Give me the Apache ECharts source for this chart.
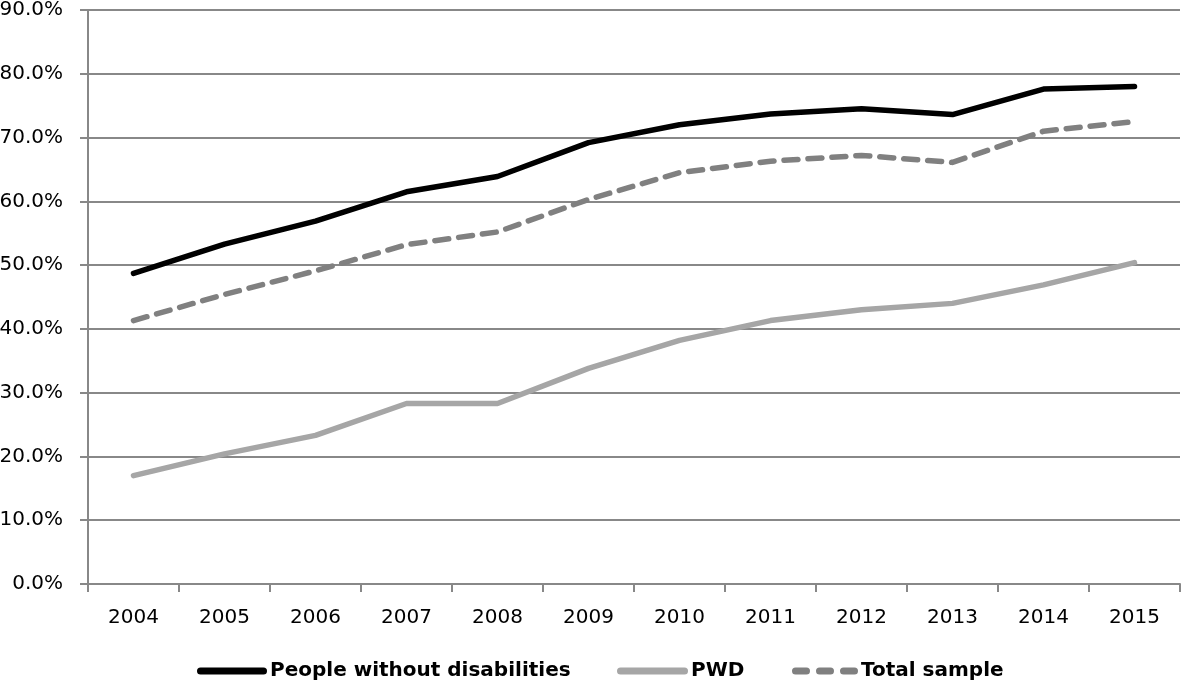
<!DOCTYPE html>
<html>
<head>
<meta charset="utf-8">
<script src="https://cdn.jsdelivr.net/npm/echarts@6/dist/echarts.min.js"></script>
<style>html,body{margin:0;padding:0;background:#fff}#c{width:1181px;height:686px}</style>
</head>
<body>
<div id="c"></div>
<script>
var years = ['2004','2005','2006','2007','2008','2009','2010','2011','2012','2013','2014','2015'];
var withoutDisabilities = [48.7, 53.3, 56.9, 61.5, 63.9, 69.2, 72.0, 73.7, 74.5, 73.6, 77.6, 78.0];
var pwd = [17.0, 20.4, 23.3, 28.3, 28.3, 33.8, 38.2, 41.3, 43.0, 44.0, 46.9, 50.4];
var totalSample = [41.3, 45.4, 49.1, 53.2, 55.2, 60.3, 64.5, 66.3, 67.2, 66.1, 71.0, 72.5];
var seriesNames = ['People without disabilities', 'PWD', 'Total sample'];

var FONT = 'DejaVu Sans';
var legendText = {fontFamily: FONT, fontSize: 20, fontWeight: 'bold', color: '#000', padding: [0,0,0,-2]};
function lg(name, left, w, icon) {
  return {left: left, top: 656, itemWidth: w, itemHeight: 7, icon: icon,
          itemStyle: {borderWidth: 0}, lineStyle: {width: 0},
          textStyle: legendText, data: [name], selectedMode: false};
}
var chart = echarts.init(document.getElementById('c'), null, {renderer: 'canvas'});
chart.setOption({
  animation: false,
  backgroundColor: '#ffffff',
  grid: {left: 88, right: 1, top: 10, bottom: 102, containLabel: false, outerBoundsMode: 'none'},
  legend: [
    lg(seriesNames[0], 192, 70, 'path://M3.5,0h63a3.5,3.5 0 0 1 0,7h-63a3.5,3.5 0 0 1 0,-7z'),
    lg(seriesNames[1], 612, 71, 'path://M3.5,0h64a3.5,3.5 0 0 1 0,7h-64a3.5,3.5 0 0 1 0,-7z'),
    lg(seriesNames[2], 787, 66, 'path://M3.5,0h11a3.5,3.5 0 0 1 0,7h-11a3.5,3.5 0 0 1 0,-7z M27.5,0h11a3.5,3.5 0 0 1 0,7h-11a3.5,3.5 0 0 1 0,-7z M51.5,0h11a3.5,3.5 0 0 1 0,7h-11a3.5,3.5 0 0 1 0,-7z')
  ],
  xAxis: {
    type: 'category', data: years, boundaryGap: true,
    axisLine: {lineStyle: {color: '#888888', width: 2}},
    axisTick: {show: true, interval: 0, length: 8, lineStyle: {color: '#888888', width: 2}},
    axisLabel: {fontFamily: FONT, fontSize: 20, color: '#000', margin: 24, interval: 0}
  },
  yAxis: {
    type: 'value', min: 0, max: 90, interval: 10,
    axisLine: {show: true, lineStyle: {color: '#888888', width: 2}},
    axisTick: {show: true, length: 8, lineStyle: {color: '#888888', width: 2}},
    splitLine: {lineStyle: {color: '#888888', width: 2}},
    axisLabel: {fontFamily: FONT, fontSize: 20, color: '#000', margin: 25, formatter: function(v){return v.toFixed(1)+'%';}}
  },
  series: [
    {name: seriesNames[0], type: 'line', data: withoutDisabilities, symbol: 'none', color: '#000000',
     lineStyle: {color: '#000000', width: 5.5, cap: 'round'}},
    {name: seriesNames[1], type: 'line', data: pwd, symbol: 'none', color: '#a6a6a6',
     lineStyle: {color: '#a6a6a6', width: 5.5, cap: 'round'}},
    {name: seriesNames[2], type: 'line', data: totalSample, symbol: 'none', color: '#808080',
     lineStyle: {color: '#808080', width: 5.5, type: [14, 10], cap: 'round'}}
  ]
});
</script>
</body>
</html>
